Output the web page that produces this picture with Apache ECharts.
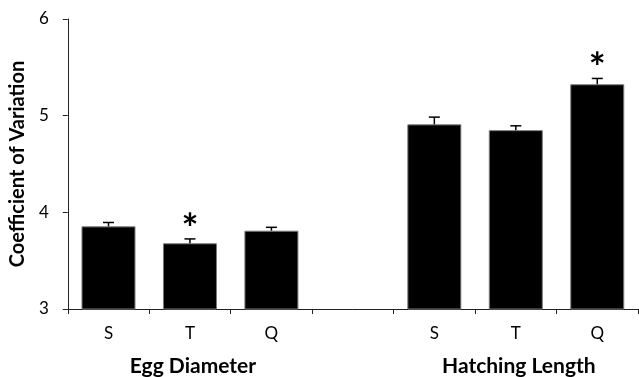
<!DOCTYPE html>
<html>
<head>
<meta charset="utf-8">
<script src="https://cdn.jsdelivr.net/npm/echarts@6/dist/echarts.min.js"></script>
<style>html,body{margin:0;padding:0;background:#fff}#c{width:639px;height:377px}</style>
</head>
<body>
<div id="c"></div>
<script>
var categories = ['S', 'T', 'Q', '', 'S', 'T', 'Q'];
var groupLabels = ['', 'Egg Diameter', '', '', '', 'Hatching Length', ''];
var values = [3.855, 3.68, 3.81, null, 4.91, 4.85, 5.325];
var errors = [0.04, 0.045, 0.035, null, 0.075, 0.045, 0.06];
var significant = [false, true, false, false, false, false, true];
var yTicks = [3, 4, 5, 6];

var FONT = 'Lato, "Open Sans", sans-serif';
var chart = echarts.init(document.getElementById('c'));

var errData = [];
for (var i = 0; i < values.length; i++) {
  if (values[i] != null) errData.push([i, values[i], errors[i], significant[i] ? 1 : 0]);
}

chart.setOption({
  animation: false,
  grid: { left: 65, right: 1, top: 19, bottom: 68 },
  xAxis: [{
    type: 'category',
    data: categories,
    axisLine: { lineStyle: { color: '#222', width: 1 } },
    axisTick: { show: true, length: 5, lineStyle: { color: '#222' } },
    axisLabel: { color: '#000', fontFamily: FONT, fontSize: 17, margin: 16 }
  }, {
    type: 'category',
    data: groupLabels,
    position: 'bottom',
    axisLine: { show: false },
    axisTick: { show: false },
    axisLabel: { color: '#000', fontFamily: FONT, fontSize: 21, fontWeight: 'bold', margin: 47, interval: 0, padding: [0, 0, 0, 6] }
  }],
  yAxis: {
    type: 'value',
    min: yTicks[0], max: yTicks[yTicks.length - 1], interval: 1,
    name: 'Coefficient of Variation',
    nameLocation: 'middle',
    nameGap: 37,
    nameTextStyle: { color: '#000', fontFamily: FONT, fontSize: 20, fontWeight: 'bold' },
    splitLine: { show: false },
    axisLine: { show: true, lineStyle: { color: '#222', width: 1 } },
    axisTick: { show: true, length: 5, lineStyle: { color: '#222' } },
    axisLabel: { color: '#000', fontFamily: FONT, fontSize: 17, margin: 19 }
  },
  series: [{
    type: 'bar',
    data: values,
    barWidth: 54,
    itemStyle: { color: '#000', borderColor: '#7a7a7a', borderWidth: 1 }
  }, {
    type: 'custom',
    data: errData,
    z: 5,
    renderItem: function (params, api) {
      var x = api.value(0), v = api.value(1), e = api.value(2), s = api.value(3);
      var p0 = api.coord([x, v]);
      var p1 = api.coord([x, v + e]);
      var cw = 5.5;
      var children = [{
        type: 'line',
        shape: { x1: p0[0], y1: p0[1], x2: p1[0], y2: p1[1] },
        style: { stroke: '#000', lineWidth: 1.5 }
      }, {
        type: 'line',
        shape: { x1: p1[0] - cw, y1: p1[1], x2: p1[0] + cw, y2: p1[1] },
        style: { stroke: '#000', lineWidth: 1.5 }
      }];
      if (s) {
        children.push({
          type: 'text',
          style: {
            text: '*', x: p1[0], y: p1[1] + 11,
            textAlign: 'center', textVerticalAlign: 'bottom',
            fontFamily: FONT, fontSize: 40, fontWeight: 'bold', fill: '#000'
          }
        });
      }
      return { type: 'group', children: children };
    }
  }]
});
</script>
</body>
</html>
